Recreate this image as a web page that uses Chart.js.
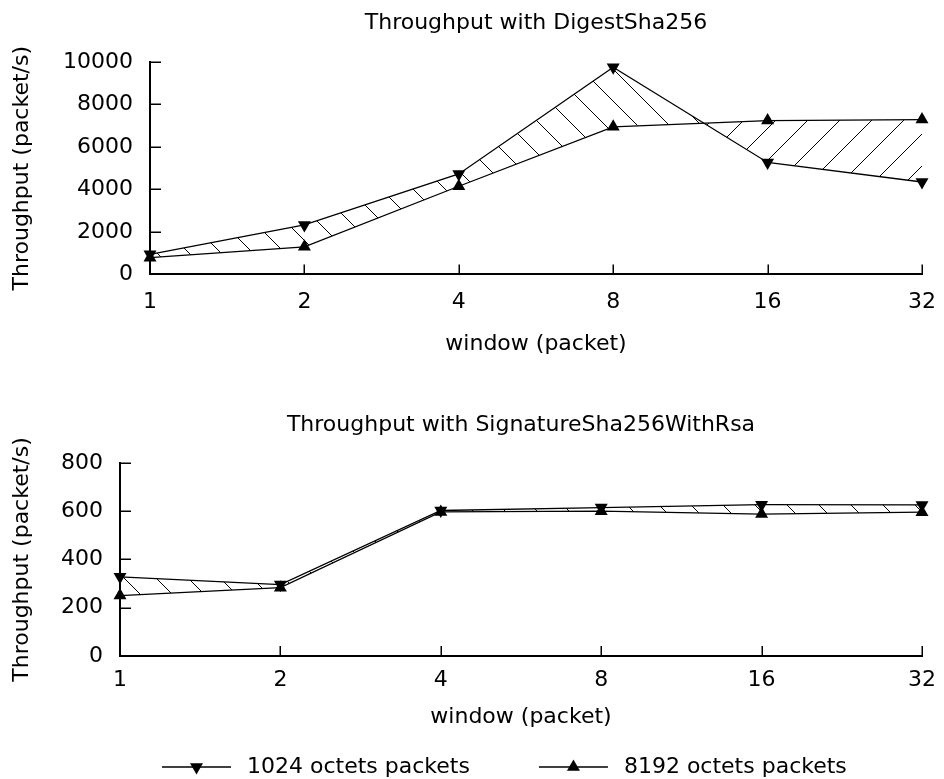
<!DOCTYPE html>
<html><head><meta charset="utf-8">
<script src="https://cdn.jsdelivr.net/npm/chart.js@4/dist/chart.umd.min.js"></script>
<style>
html,body{margin:0;padding:0;background:#fff;}
canvas{display:block;}
</style></head>
<body>
<canvas id="c1" width="944" height="390"></canvas>
<canvas id="c2" width="944" height="389"></canvas>
<script>
// ---- data ----
const windows = ['1', '2', '4', '8', '16', '32'];
const seriesNames = ['1024 octets packets', '8192 octets packets'];
const digest1024 = [945, 2330, 4730, 9750, 5270, 4350];
const digest8192 = [785, 1300, 4150, 6950, 7240, 7290];
const rsa1024 = [328, 296, 603, 615, 627, 626];
const rsa8192 = [250, 283, 597, 600, 588, 596];
const digestTicks = [0, 2000, 4000, 6000, 8000, 10000];
const rsaTicks = [0, 200, 400, 600, 800];

Chart.defaults.font.family = "'DejaVu Sans', sans-serif";
Chart.defaults.font.size = 22;
Chart.defaults.color = '#000';
Chart.defaults.animation = false;

function hatch(dir) {
  const P = 32;
  const c = document.createElement('canvas');
  c.width = P; c.height = P;
  const g = c.getContext('2d');
  g.strokeStyle = '#000';
  g.lineWidth = 1;
  for (const off of [-P, 0, P]) {
    g.beginPath();
    if (dir === 'back') { g.moveTo(off, 0); g.lineTo(off + P, P); }
    else { g.moveTo(off, P); g.lineTo(off + P, 0); }
    g.stroke();
  }
  return g.createPattern(c, 'repeat');
}

function keyImage(down) {
  const c = document.createElement('canvas');
  c.width = 133; c.height = 18;
  const g = c.getContext('2d');
  g.strokeStyle = '#000'; g.lineWidth = 1.3;
  g.beginPath(); g.moveTo(59, 9); g.lineTo(128, 9); g.stroke();
  const cx = 93.5, cy = 9, r = 7.5, s = r * Math.sin(Math.PI / 3);
  g.fillStyle = '#000';
  g.beginPath();
  if (down) { g.moveTo(cx, cy + r); g.lineTo(cx - s, cy - r / 2); g.lineTo(cx + s, cy - r / 2); }
  else { g.moveTo(cx, cy - r); g.lineTo(cx - s, cy + r / 2); g.lineTo(cx + s, cy + r / 2); }
  g.closePath(); g.fill();
  return c;
}

const inwardTicks = {
  id: 'inwardTicks',
  beforeDatasetsDraw(chart) {
    const {ctx, chartArea, scales: {x, y}} = chart;
    ctx.save();
    ctx.strokeStyle = '#000';
    ctx.lineWidth = 1.5;
    y.ticks.forEach(t => {
      const py = Math.round(y.getPixelForValue(t.value)) + 0.25;
      ctx.beginPath(); ctx.moveTo(chartArea.left, py); ctx.lineTo(chartArea.left + 11, py); ctx.stroke();
    });
    x.ticks.forEach((t, i) => {
      const px = Math.round(x.getPixelForTick(i)) + 0.25;
      ctx.beginPath(); ctx.moveTo(px, chartArea.bottom); ctx.lineTo(px, chartArea.bottom - 10); ctx.stroke();
    });
    ctx.restore();
  }
};

const legendPlace = {
  id: 'legendPlace',
  afterLayout(chart) {
    const l = chart.legend;
    if (!l || !l.options.display) return;
    const w = l.right - l.left, h = l.bottom - l.top;
    l.left = 93; l.right = l.left + w;
    l.top = 356; l.bottom = l.top + h;
  }
};

function makeDatasets(a, b) {
  return [
    {
      label: seriesNames[0], data: a,
      borderColor: '#000', borderWidth: 1.3, tension: 0,
      pointStyle: 'triangle', rotation: 180, pointRadius: 7.5,
      pointBackgroundColor: '#000', pointBorderColor: '#000', pointBorderWidth: 0,
      fill: {target: 1, above: hatch('back'), below: hatch('fwd')},
      backgroundColor: 'transparent'
    },
    {
      label: seriesNames[1], data: b,
      borderColor: '#000', borderWidth: 1.3, tension: 0,
      pointStyle: 'triangle', rotation: 0, pointRadius: 7.5,
      pointBackgroundColor: '#000', pointBorderColor: '#000', pointBorderWidth: 0,
      fill: false
    }
  ];
}

function makeOptions(cfg) {
  return {
    responsive: false,
    animation: false,
    layout: {padding: {left: 0, right: 22, top: 0, bottom: cfg.padBottom}},
    plugins: {
      title: {
        display: true, text: cfg.title, fullSize: false,
        font: {size: 22, weight: 'normal'}, color: '#000',
        padding: {top: cfg.titleTop, bottom: cfg.titleBottom}
      },
      legend: cfg.legend ? {
        display: true, position: 'bottom', align: 'start',
        labels: {
          usePointStyle: true, pointStyleWidth: 133, padding: 10,
          font: {size: 22}, color: '#000',
          generateLabels: () => seriesNames.map((n, i) => ({
            text: n, pointStyle: keyImage(i === 0), rotation: 0,
            fillStyle: '#000', strokeStyle: '#000', lineWidth: 0,
            fontColor: '#000', hidden: false, datasetIndex: i
          }))
        }
      } : {display: false},
      tooltip: {enabled: false}
    },
    scales: {
      x: {
        type: 'category',
        offset: false,
        afterFit: s => { s.paddingLeft = 0; s.paddingRight = 0; },
        grid: {display: false, drawTicks: false, tickLength: 0},
        border: {display: true, color: '#000', width: 2},
        ticks: {padding: cfg.xTickPad, font: {size: 22}, color: '#000', maxRotation: 0, autoSkip: false},
        title: {display: true, text: 'window (packet)', font: {size: 22}, color: '#000',
                padding: {top: cfg.xTitleTop, bottom: cfg.xTitleBottom}}
      },
      y: {
        min: cfg.ticks[0], max: cfg.ticks[cfg.ticks.length - 1],
        afterBuildTicks: s => { s.ticks = cfg.ticks.map(v => ({value: v})); },
        afterFit: s => { s.width = cfg.left; },
        grid: {display: false, drawTicks: false, tickLength: 0},
        border: {display: true, color: '#000', width: 2},
        ticks: {padding: 17, font: {size: 22}, color: '#000', callback: v => String(v)},
        title: {display: true, text: 'Throughput (packet/s)', font: {size: 22}, color: '#000',
                padding: {top: 9, bottom: 0}}
      }
    }
  };
}

new Chart(document.getElementById('c1'), {
  type: 'line',
  data: {labels: windows, datasets: makeDatasets(digest1024, digest8192)},
  options: makeOptions({
    title: 'Throughput with DigestSha256', titleTop: 10, titleBottom: 25.6,
    left: 150, ticks: digestTicks, padBottom: 28.8, xTickPad: 15, xTitleTop: 0, xTitleBottom: 4,
    legend: false
  }),
  plugins: [inwardTicks]
});

new Chart(document.getElementById('c2'), {
  type: 'line',
  data: {labels: windows, datasets: makeDatasets(rsa1024, rsa8192)},
  options: makeOptions({
    title: 'Throughput with SignatureSha256WithRsa', titleTop: 21.8, titleBottom: 24.8,
    left: 120, ticks: rsaTicks, padBottom: 1.5, xTickPad: 11, xTitleTop: 0, xTitleBottom: 4.8,
    legend: true
  }),
  plugins: [inwardTicks, legendPlace]
});
</script>
</body></html>
